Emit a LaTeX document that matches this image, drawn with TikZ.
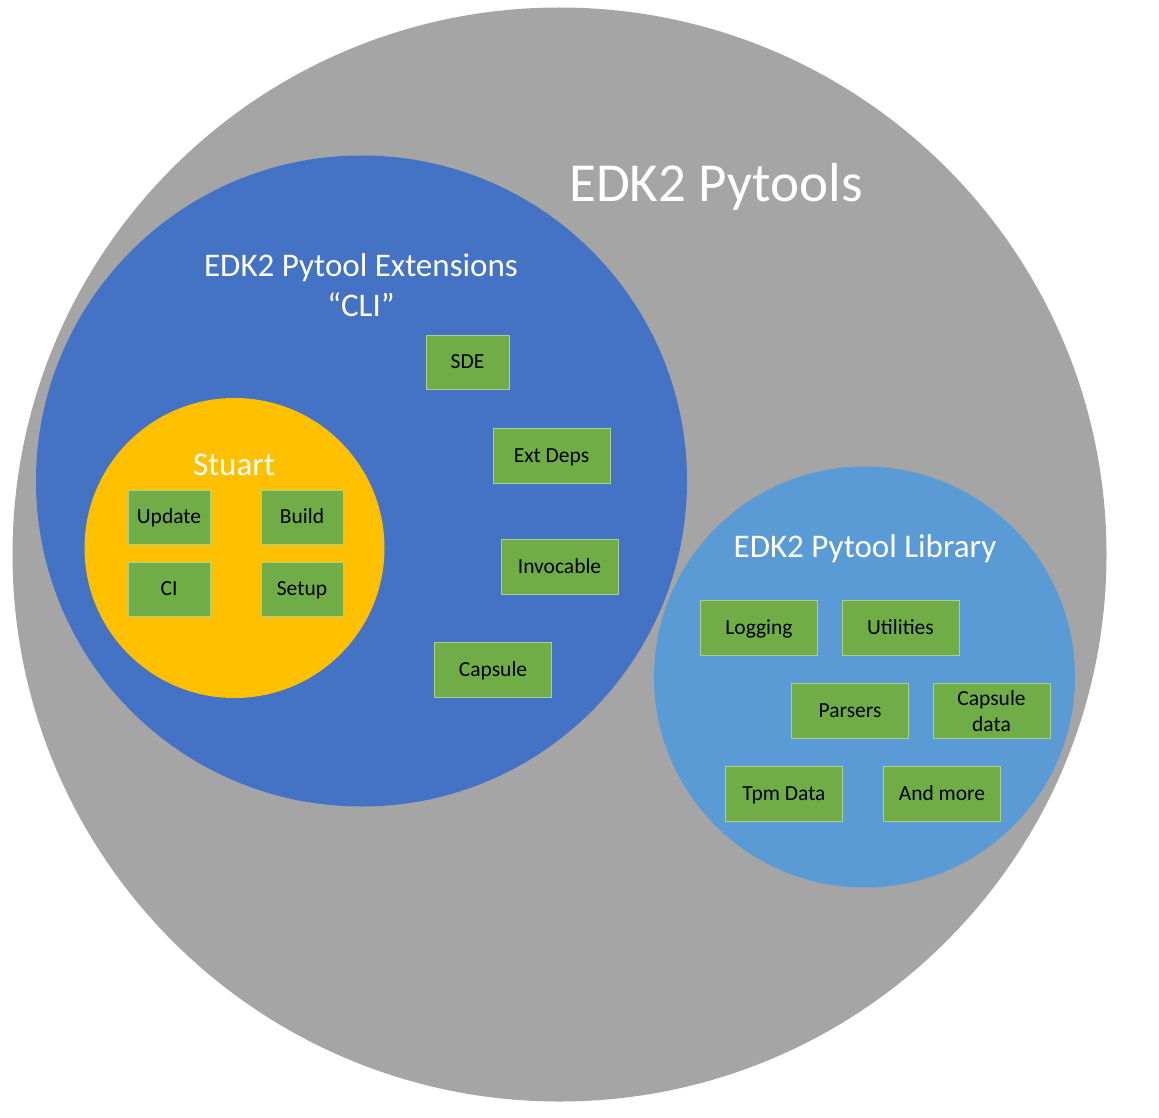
\documentclass[tikz,border=0pt]{standalone}
\usepackage{fontspec}
\setmainfont{Carlito}
\definecolor{cgray}{HTML}{A5A5A5}
\definecolor{cblue}{HTML}{4472C4}
\definecolor{clblue}{HTML}{5B9BD5}
\definecolor{cyellow}{HTML}{FFC000}
\definecolor{cgreen}{HTML}{70AD47}
\definecolor{cgreenedge}{HTML}{A9D18E}
\begin{document}
\begin{tikzpicture}[x=1pt,y=-1pt,
  disc/.style={circle,inner sep=0pt,draw=none},
  title/.style={text=white,font=\fontsize{33}{38}\selectfont,align=center,inner sep=0pt},
  gbox/.style={rectangle,fill=cgreen,draw=cgreenedge,line width=1pt,inner sep=0pt,
    minimum width=117pt,minimum height=55pt,font=\fontsize{21.5}{25}\selectfont,
    text height=14pt,text depth=1pt,align=center},
  sbox/.style={gbox,minimum width=82pt,minimum height=54pt}]
\useasboundingbox (0,0) rectangle (1159,1118);
\fill[white] (0,0) rectangle (1159,1118);
\node[disc,fill=cgray,minimum size=1094pt] (pytools) at (559.5,554.5) {};
\node[disc,fill=cblue,minimum size=651pt] (ext) at (361.5,481) {};
\node[disc,fill=cyellow,minimum size=300pt] (stuart) at (234.5,548) {};
\node[disc,fill=clblue,minimum size=421pt] (lib) at (864.5,677) {};
\node[text=white,font=\fontsize{55}{60}\selectfont,inner sep=0pt] (tpytools) at (716,187) {EDK2 Pytools};
\node[title] (text) at (361,268) {EDK2 Pytool Extensions};
\node[title] (tcli) at (361,305) {“CLI”};
\node[title] (tstuart) at (234,465) {Stuart};
\node[title] (tlib) at (865,549) {EDK2 Pytool Library};
\node[sbox] (update) at (169,517) {Update};
\node[sbox] (build) at (302,517) {Build};
\node[sbox] (ci) at (169,589) {CI};
\node[sbox] (setup) at (302,589) {Setup};
\node[sbox,minimum width=83pt] (sde) at (467.5,362) {SDE};
\node[gbox] (extdeps) at (551.5,455.5) {Ext Deps};
\node[gbox] (invocable) at (559.5,566.5) {Invocable};
\node[gbox] (capsule) at (493,670) {Capsule};
\node[gbox] (logging) at (759,627.5) {Logging};
\node[gbox] (utilities) at (900.5,627.5) {Utilities};
\node[gbox] (parsers) at (850,710.5) {Parsers};
\node[gbox,text height=,text depth=,font=\fontsize{21.5}{26}\selectfont] (capdata) at (991.5,711) {Capsule\\data};
\node[gbox] (tpm) at (784,793.5) {Tpm Data};
\node[gbox] (more) at (942,793.5) {And more};
\end{tikzpicture}
\end{document}
